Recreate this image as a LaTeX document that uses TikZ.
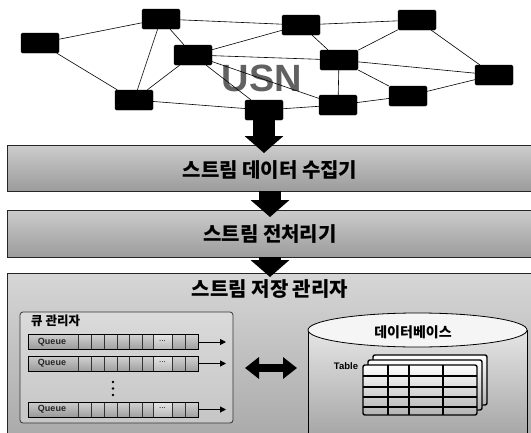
\documentclass[tikz,border=0pt]{standalone}
\usepackage{fontspec}
\setmainfont{Liberation Sans}
\newfontfamily\kr{Noto Sans CJK KR}
\usetikzlibrary{arrows.meta,backgrounds}
\pgfdeclarelayer{edgelayer}
\pgfdeclarelayer{nodelayer}
\pgfsetlayers{edgelayer,nodelayer,main}
\tikzset{font=\kr\bfseries}
\tikzstyle{none}=[inner sep=0pt]
\tikzstyle{mote}=[rectangle,rounded corners=1.5pt,fill=black,draw=black,minimum width=38pt,minimum height=20pt,inner sep=0pt]
\tikzstyle{link}=[black,line width=0.6pt]
\tikzstyle{stage}=[rectangle,draw=black!85,line width=0.9pt,top color=gray!40,bottom color=gray!78,minimum width=540pt,inner sep=0pt]
\tikzstyle{stagelabel}=[inner sep=0pt,font=\kr\bfseries\fontsize{20}{20}\selectfont]
\tikzstyle{flow}=[black,line width=22pt,-{Triangle[length=17pt,width=38pt]}]
\tikzstyle{xchg}=[black,line width=8pt,{Triangle[length=14pt,width=21pt]}-{Triangle[length=14pt,width=21pt]}]
\tikzstyle{qbox}=[rectangle,rounded corners=3pt,draw=black!80,line width=0.8pt,fill=white,fill opacity=0.3,text opacity=1,inner sep=0pt]
\tikzstyle{queue}=[rectangle,draw=black,line width=1pt,minimum width=170pt,minimum height=15pt,inner sep=0pt]
\tikzstyle{cell}=[draw=black!80,line width=0.5pt,top color=gray!35,bottom color=gray!75]
\tikzstyle{qarrow}=[black,line width=1pt,-{Triangle[length=6pt,width=6pt]}]
\tikzstyle{sheet}=[draw=black,line width=1.4pt,rounded corners=2pt,top color=white,bottom color=gray!60]

\begin{document}
\begin{tikzpicture}[x=1pt,y=-1pt]
	\useasboundingbox (0,0) rectangle (531,432);
	\begin{pgfonlayer}{nodelayer}
		\node [style=mote] (1) at (40, 43) {};
		\node [style=mote] (2) at (161, 19) {};
		\node [style=mote] (3) at (301, 25) {};
		\node [style=mote] (4) at (417, 20) {};
		\node [style=mote] (5) at (193, 55) {};
		\node [style=mote] (6) at (339, 60) {};
		\node [style=mote] (7) at (494, 75) {};
		\node [style=mote] (8) at (134, 100) {};
		\node [style=mote] (9) at (408, 96) {};
		\node [style=mote] (10) at (338, 105) {};
		\node [style=mote] (11) at (264, 110) {};
	\end{pgfonlayer}
	\begin{pgfonlayer}{edgelayer}
		\node [style=none, text=black!62, font=\normalfont\bfseries\fontsize{38}{38}\selectfont] (usn) at (262, 78) {USN};
		\draw [style=link] (1) to (2);
		\draw [style=link] (1) to (8);
		\draw [style=link] (2) to (3);
		\draw [style=link] (2) to (8);
		\draw [style=link] (2) to (5);
		\draw [style=link] (3) to (4);
		\draw [style=link] (3) to (5);
		\draw [style=link] (3) to (6);
		\draw [style=link] (4) to (6);
		\draw [style=link] (4) to (7);
		\draw [style=link] (5) to (6);
		\draw [style=link] (5) to (8);
		\draw [style=link] (5) to (11);
		\draw [style=link] (5) to (10);
		\draw [style=link] (6) to (7);
		\draw [style=link] (6) to (9);
		\draw [style=link] (6) to (10);
		\draw [style=link] (9) to (7);
		\draw [style=link] (8) to (11);
		\draw [style=link] (11) to (10);
		\draw [style=link] (10) to (9);
	\end{pgfonlayer}

	% stages
	\node [style=stage, minimum height=46pt] (collector) at (277, 168) {};
	\node [style=stagelabel] (collectorlbl) at (270, 170) {스트림 데이터 수집기};
	\node [style=stage, minimum height=47pt] (prep) at (277, 233.5) {};
	\node [style=stagelabel] (preplbl) at (270, 234) {스트림 전처리기};
	\node [style=stage, minimum height=170pt, top color=gray!32, bottom color=gray!68] (store) at (277.5, 358) {};
	\node [style=stagelabel] (storelbl) at (270, 289) {스트림 저장 관리자};

	\coordinate (tip1) at (264, 153);
	\coordinate (tip2) at (270, 217);
	\coordinate (tip3) at (270, 277);
	\draw [style=flow] (11.south) to (tip1);
	\draw [style=flow] (collector.south -| tip2) to (tip2);
	\draw [style=flow] (prep.south -| tip3) to (tip3);

	% queue manager
	\node [style=qbox, minimum width=213pt, minimum height=111pt] (qm) at (126.5, 367.5) {};
	\node [style=none, anchor=west, font=\kr\bfseries\fontsize{12.5}{12.5}\selectfont] (qmlbl) at (31, 321) {큐 관리자};
	\foreach \n/\y in {q1/342, q2/363.5, q3/409.5}{
		\node [style=queue] (\n) at (113, \y) {};
		\draw [style=cell, top color=gray!40, bottom color=gray!80] (28, \y-7.5) rectangle (78, \y+7.5);
		\node [style=none, text=black!85, font=\normalfont\bfseries\fontsize{9}{9}\selectfont] (\n-lbl) at (52, \y) {Queue};
		\foreach \a/\b in {78/91, 91/104, 104/117, 117/129, 129/142, 142/153, 172/185, 185/198}
			\draw [style=cell] (\a, \y-7.5) rectangle (\b, \y+7.5);
		\draw [style=cell, top color=gray!20, bottom color=gray!55] (153, \y-7.5) rectangle (172, \y+7.5);
		\node [style=none, font=\normalfont\fontsize{8}{8}\selectfont] (\n-dots) at (162.5, \y-1) {...};
		\draw [black, line width=1pt] (28, \y-7.5) rectangle (198, \y+7.5);
		\coordinate (\n-out) at (226, \y);
		\draw [style=qarrow] (\n.east) to (\n-out);
	}
	\foreach \y in {382, 388.5, 395}
		\fill [black] (113, \y) circle (1.4pt);

	% database
	\fill [top color=gray!20, bottom color=gray!72] (308, 330) rectangle (527, 440);
	\draw [black, line width=0.8pt] (308, 330) -- (308, 440) (527, 330) -- (527, 440);
	\filldraw [fill=gray!8, draw=black, line width=0.8pt] (417.5, 330) ellipse [x radius=109.5pt, y radius=17pt];
	\node [style=none, font=\kr\bfseries\fontsize{14}{14}\selectfont] (dblbl) at (413, 332) {데이터베이스};

	\coordinate (xl) at (245, 368);
	\coordinate (xr) at (297, 368);
	\draw [style=xchg] (xl) to (xr);

	% table stack
	\foreach \d in {10, 5}
		\draw [style=sheet] (363+\d, 365-\d) rectangle (477+\d, 415-\d);
	\draw [style=sheet] (363, 365) rectangle (477, 415);
	\foreach \x in {388, 409, 443}
		\draw [black, line width=1.2pt] (\x, 365) -- (\x, 415);
	\foreach \y in {376, 387, 397, 407}
		\draw [black, line width=1.2pt] (363, \y) -- (477, \y);
	\node [style=none, font=\normalfont\bfseries\fontsize{9.5}{9.5}\selectfont] (tbl) at (346, 366) {Table};
\end{tikzpicture}
\end{document}
